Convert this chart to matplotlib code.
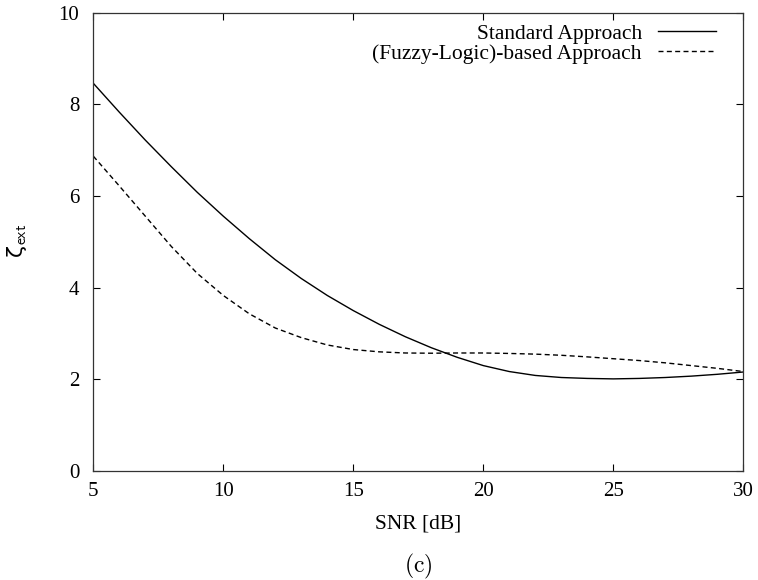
import matplotlib
matplotlib.use("Agg")
import matplotlib.pyplot as plt

# SNR axis (dB) and extrinsic-information metric for both approaches
snr_db = [5, 6, 7, 8, 9, 10, 11, 12, 13, 14, 15, 16, 17, 18, 19, 20,
          21, 22, 23, 24, 25, 26, 27, 28, 29, 30]
standard = [8.46, 7.83, 7.22, 6.64, 6.08, 5.56, 5.07, 4.61, 4.20, 3.83,
            3.50, 3.20, 2.93, 2.69, 2.48, 2.30, 2.17, 2.085, 2.04, 2.02,
            2.01, 2.02, 2.04, 2.07, 2.11, 2.16]
fuzzy = [6.87, 6.22, 5.56, 4.90, 4.31, 3.83, 3.43, 3.12, 2.91, 2.75,
         2.65, 2.60, 2.575, 2.57, 2.575, 2.575, 2.565, 2.55, 2.525, 2.49,
         2.45, 2.41, 2.36, 2.30, 2.24, 2.17]

series_labels = ["Standard Approach", "(Fuzzy-Logic)-based Approach"]
x_ticks = [5, 10, 15, 20, 25, 30]
y_ticks = [0, 2, 4, 6, 8, 10]

plt.rcParams["font.family"] = ["Liberation Serif", "DejaVu Serif"]
plt.rcParams["mathtext.fontset"] = "cm"

W, H = 758, 580
fig = plt.figure(figsize=(W / 100, H / 100), dpi=100)
left, right, top, bottom = 93.3, 743.3, 12.7, 471.0
ax = fig.add_axes([left / W, 1 - bottom / H, (right - left) / W, (bottom - top) / H])

ax.plot(snr_db, standard, color="black", lw=1.0, label=series_labels[0])
ax.plot(snr_db, fuzzy, color="black", lw=1.0, dashes=(3.6, 2.4),
        label=series_labels[1])

ax.set_xlim(5, 30)
ax.set_ylim(0, 10)
ax.set_xticks(x_ticks)
ax.set_yticks(y_ticks)
ax.tick_params(direction="in", length=5, width=0.8, top=True, right=True,
               labelsize=15, colors="black")
ax.tick_params(axis="y", pad=10)
ax.tick_params(axis="x", pad=8)
for s in ax.spines.values():
    s.set_linewidth(0.9)
    s.set_color("#333333")

leg = ax.legend(loc="upper right", bbox_to_anchor=(0.965, 0.985),
                frameon=False, markerfirst=False, fontsize=15.5,
                handlelength=2.7, handletextpad=0.75, labelspacing=0.0,
                borderpad=0.2, borderaxespad=0.0)

fig.text(418 / W, 1 - 524 / H, "SNR [dB]", ha="center", va="center", fontsize=15.5)
fig.text(418 / W, 1 - 566 / H, r"$\mathrm{(c)}$", ha="center", va="center",
         fontsize=17)
fig.text(17 / W, 1 - 241 / H, r"ζ$_{\mathsf{ext}}$", ha="center", va="center",
         rotation=90, fontsize=16, family=["DejaVu Sans"])

fig.savefig("out.png", dpi=100)
